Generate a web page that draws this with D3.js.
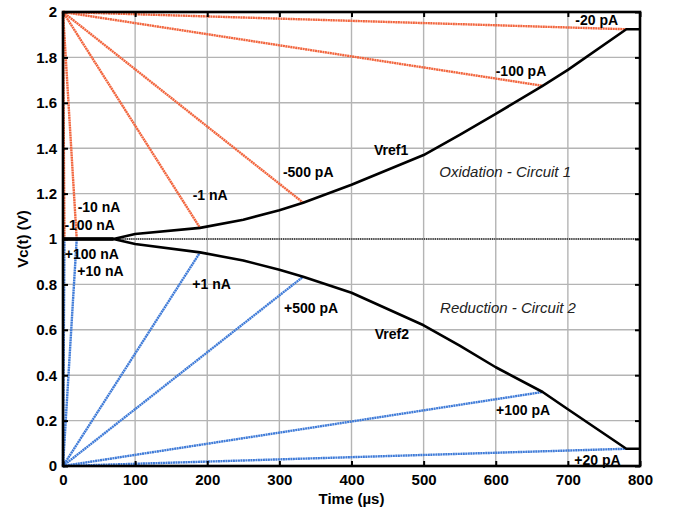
<!DOCTYPE html>
<html>
<head>
<meta charset="utf-8">
<script src="https://cdn.jsdelivr.net/npm/d3@7"></script>
<style>
  body { margin: 0; background: #fff; }
  svg { font-family: "Liberation Sans", Arial, sans-serif; }
</style>
</head>
<body>
<svg id="chart" width="677" height="510"></svg>
<script>
// reference voltage curves (time in us, voltage in V)
const vrefTime = [0, 70, 100, 190, 250, 300, 333, 400, 500, 550, 600, 665, 700, 781, 800];
const vref1 = [1, 1, 1.022, 1.049, 1.085, 1.127, 1.16, 1.239, 1.37, 1.459, 1.551, 1.675, 1.745, 1.924, 1.924];
const vref2 = [1, 1, 0.978, 0.941, 0.905, 0.865, 0.834, 0.763, 0.62, 0.53, 0.435, 0.326, 0.25, 0.076, 0.076];

// oxidation ramps start at 2 V, reduction ramps at 0 V
const oxCurrents = ['-20 pA', '-100 pA', '-500 pA', '-1 nA', '-10 nA', '-100 nA'];
const oxEndTime = [781, 665, 333, 190, 19, 2];
const oxEndV = [1.924, 1.675, 1.16, 1.049, 1.0, 1.0];

const redCurrents = ['+20 pA', '+100 pA', '+500 pA', '+1 nA', '+10 nA', '+100 nA'];
const redEndTime = [781, 665, 333, 190, 19, 2];
const redEndV = [0.076, 0.326, 0.834, 0.941, 1.0, 1.0];

const xTicks = [0, 100, 200, 300, 400, 500, 600, 700, 800];
const yTicks = [0, 0.2, 0.4, 0.6, 0.8, 1, 1.2, 1.4, 1.6, 1.8, 2];

// text annotations, in data units
const labelText = ['-20 pA', '-100 pA', '-500 pA', '-1 nA', '-10 nA', '-100 nA', 'Vref1',
  '+100 nA', '+10 nA', '+1 nA', '+500 pA', 'Vref2', '+100 pA', '+20 pA'];
const labelTime = [740, 635, 340, 204, 50, 37, 455, 40, 52, 206, 344, 456, 638, 741];
const labelV = [1.943, 1.72, 1.275, 1.17, 1.12, 1.04, 1.37, 0.91, 0.835, 0.78, 0.675, 0.56, 0.223, 0.003];
const circuitText = ['Oxidation - Circuit 1', 'Reduction - Circuit 2'];
const circuitTime = [613, 617];
const circuitV = [1.275, 0.675];

const margin = { top: 12, right: 37, bottom: 44, left: 63 };
const width = 677 - margin.left - margin.right;
const height = 510 - margin.top - margin.bottom;

const svg = d3.select('#chart');
const g = svg.append('g').attr('transform', `translate(${margin.left},${margin.top})`);

const x = d3.scaleLinear().domain([0, 800]).range([0, width]);
const y = d3.scaleLinear().domain([0, 2]).range([height, 0]);

// grid
g.append('g').selectAll('line').data(xTicks).join('line')
  .attr('x1', d => x(d)).attr('x2', d => x(d))
  .attr('y1', 0).attr('y2', height)
  .attr('stroke', '#b4b4b4').attr('stroke-width', 1.4);
g.append('g').selectAll('line').data(yTicks).join('line')
  .attr('x1', 0).attr('x2', width)
  .attr('y1', d => y(d)).attr('y2', d => y(d))
  .attr('stroke', '#b4b4b4').attr('stroke-width', 1.4);

// dotted line at 1 V
g.append('line')
  .attr('x1', 0).attr('x2', width).attr('y1', y(1)).attr('y2', y(1))
  .attr('stroke', '#222').attr('stroke-width', 1.3).attr('stroke-dasharray', '1.2,1');

// ramps
const ramp = (t0, v0, t1, v1) => `M${x(t0)},${y(v0)}L${x(t1)},${y(v1)}`;

g.append('g').selectAll('path').data(oxCurrents).join('path')
  .attr('d', (d, i) => ramp(0, 2, oxEndTime[i], oxEndV[i]))
  .attr('stroke', '#f2653d').attr('stroke-width', 2.4).attr('fill', 'none')
  .attr('stroke-dasharray', '2,0.5');

g.append('g').selectAll('path').data(redCurrents).join('path')
  .attr('d', (d, i) => ramp(0, 0, redEndTime[i], redEndV[i]))
  .attr('stroke', '#3f7bd8').attr('stroke-width', 2.4).attr('fill', 'none')
  .attr('stroke-dasharray', '2,0.5');

// reference curves
const line = d3.line().x(d => x(d[0])).y(d => y(d[1]));
[vref1, vref2].forEach(v => {
  g.append('path')
    .datum(vrefTime.map((t, i) => [t, v[i]]))
    .attr('d', line)
    .attr('fill', 'none').attr('stroke', '#000').attr('stroke-width', 2.6)
    .attr('stroke-linejoin', 'round');
});
g.append('line')
  .attr('x1', x(0)).attr('x2', x(70)).attr('y1', y(1)).attr('y2', y(1))
  .attr('stroke', '#000').attr('stroke-width', 3.5);

// axes with inward ticks on all four sides
const tickSize = -5;
const axBottom = g.append('g').attr('transform', `translate(0,${height})`)
  .call(d3.axisBottom(x).tickValues(xTicks).tickSize(tickSize).tickPadding(8).tickFormat(d3.format('d')));
const axLeft = g.append('g')
  .call(d3.axisLeft(y).tickValues(yTicks).tickSize(tickSize).tickPadding(6).tickFormat(d3.format('~g')));
const axTop = g.append('g')
  .call(d3.axisTop(x).tickValues(xTicks).tickSize(tickSize).tickFormat(''));
const axRight = g.append('g').attr('transform', `translate(${width},0)`)
  .call(d3.axisRight(y).tickValues(yTicks).tickSize(tickSize).tickFormat(''));

[axBottom, axLeft, axTop, axRight].forEach(a => {
  a.select('.domain').remove();
  a.selectAll('.tick line').attr('stroke', '#000').attr('stroke-width', 2);
  a.selectAll('.tick text')
    .attr('fill', '#000')
    .style('font-family', '"Liberation Sans", Arial, sans-serif')
    .style('font-size', '15px').style('font-weight', 'bold');
});

g.append('rect')
  .attr('x', 0).attr('y', 0).attr('width', width).attr('height', height)
  .attr('fill', 'none').attr('stroke', '#000').attr('stroke-width', 2.6);

// axis titles
svg.append('text')
  .attr('x', margin.left + width / 2).attr('y', 504)
  .attr('text-anchor', 'middle')
  .style('font-size', '15px').style('font-weight', 'bold')
  .text('Time (\u00b5s)');
svg.append('text')
  .attr('transform', `translate(28,${margin.top + height / 2}) rotate(-90)`)
  .attr('text-anchor', 'middle')
  .style('font-size', '15px').style('font-weight', 'bold')
  .text('Vc(t) (V)');

// annotations
g.append('g').selectAll('text').data(labelText).join('text')
  .attr('x', (d, i) => x(labelTime[i])).attr('y', (d, i) => y(labelV[i]))
  .attr('text-anchor', 'middle')
  .style('font-size', '14px').style('font-weight', 'bold')
  .text(d => d);

g.append('g').selectAll('text').data(circuitText).join('text')
  .attr('x', (d, i) => x(circuitTime[i])).attr('y', (d, i) => y(circuitV[i]))
  .attr('text-anchor', 'middle')
  .style('font-size', '15px').style('font-style', 'italic').attr('fill', '#222')
  .text(d => d);
</script>
</body>
</html>
